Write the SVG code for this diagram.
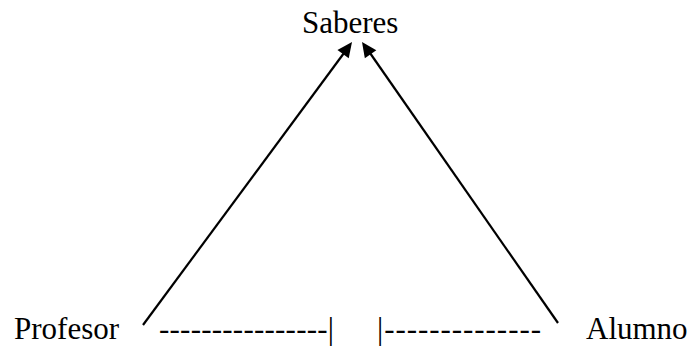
<svg xmlns="http://www.w3.org/2000/svg" width="689" height="347" viewBox="0 0 689 347">
<style>
text { font-family: "Liberation Serif", "Times New Roman", serif; font-size: 31px; fill: #000; }
.edge { stroke: #000; stroke-width: 2.2; fill: none; }
.head { fill: #000; stroke: none; }
</style>
<rect width="689" height="347" fill="#fff"/>
<g id="saberes"><text x="302" y="33" font-family="Liberation Serif, Times New Roman, serif" font-size="31">Saberes</text></g>
<g id="profesor"><text x="14" y="339" font-family="Liberation Serif, Times New Roman, serif" font-size="31">Profesor</text></g>
<g id="alumno"><text x="586" y="339" font-family="Liberation Serif, Times New Roman, serif" font-size="31">Alumno</text></g>
<g id="connectors">
<line class="edge" x1="143" y1="325" x2="344" y2="53"/>
<polygon class="head" points="352,42 348.72,58.22 337.46,49.90"/>
<line class="edge" x1="558" y1="323" x2="370" y2="53"/>
<polygon class="head" points="362,42 376.32,50.30 364.84,58.30"/>
<text x="159" y="339" font-family="Liberation Serif, Times New Roman, serif" font-size="31" textLength="175" lengthAdjust="spacing">----------------|</text>
<text x="377" y="339" font-family="Liberation Serif, Times New Roman, serif" font-size="31" textLength="164" lengthAdjust="spacing">|--------------</text>
</g>
</svg>
